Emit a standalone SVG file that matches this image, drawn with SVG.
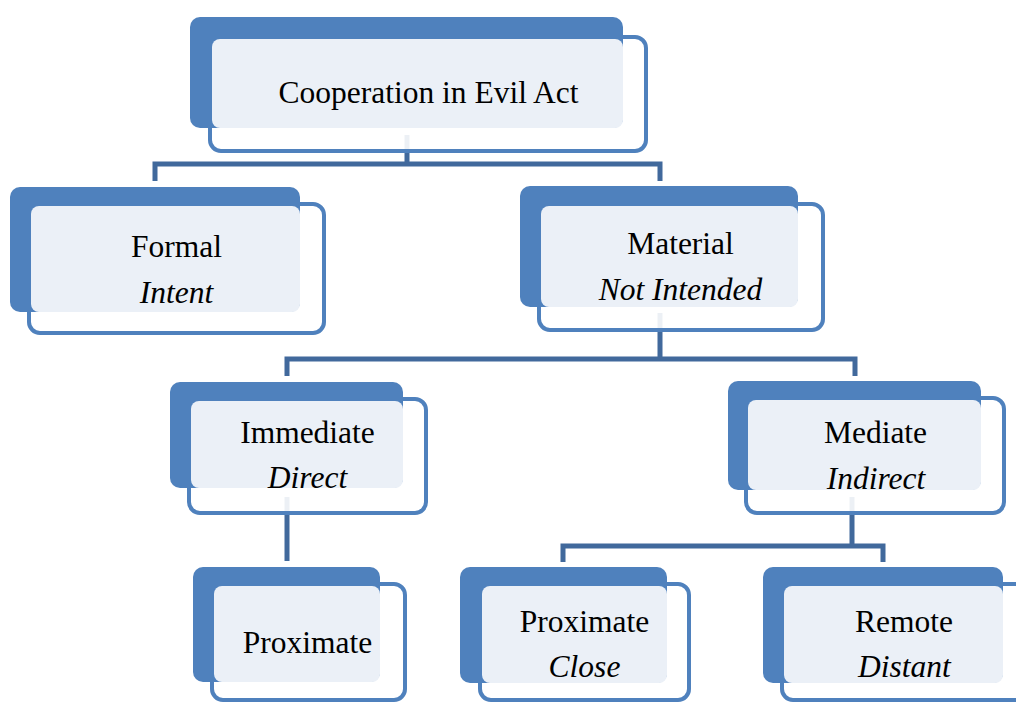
<svg xmlns="http://www.w3.org/2000/svg" width="1016" height="702" viewBox="0 0 1016 702">
<style>
.bk{fill:#4F81BD}
.ol{fill:#FFFFFF;fill-opacity:0.9;stroke:#4F81BD;stroke-width:4}
.lt{fill:#EBF0F7}
.t{font-family:"Liberation Serif","Times New Roman",serif;font-size:31.5px;fill:#000;text-anchor:middle}
.i{font-style:italic}
.c{fill:none;stroke:#41699C;stroke-width:5;stroke-linejoin:miter}
</style>
<rect width="1016" height="702" fill="#FFFFFF"/>
<g id="connectors">
<path class="c" d="M407 135 V164 M155 181 V164 H660 V181"/>
<path class="c" d="M660 313 V359 M287 376 V359 H855 V376"/>
<path class="c" d="M287 497 V561"/>
<path class="c" d="M852 497 V546 M563 562 V546 H883 V562"/>
</g>
<g id="n-top">
<rect class="ol" x="210" y="37" width="436" height="114" rx="11"/>
<rect class="bk" x="190" y="17" width="433" height="111" rx="10"/>
<rect class="lt" x="212" y="39" width="411" height="89" rx="8"/>
<text class="t" x="428.5" y="103">Cooperation in Evil Act</text>
</g>
<g id="n-formal">
<rect class="ol" x="29" y="204" width="295" height="129" rx="11"/>
<rect class="bk" x="10" y="187" width="290" height="125" rx="10"/>
<rect class="lt" x="31" y="206" width="269" height="106" rx="8"/>
<text class="t" x="176.5" y="257">Formal</text>
<text class="t i" x="176.5" y="303">Intent</text>
</g>
<g id="n-material">
<rect class="ol" x="539" y="204" width="284" height="126" rx="11"/>
<rect class="bk" x="520" y="186" width="278" height="121" rx="10"/>
<rect class="lt" x="541" y="206" width="257" height="101" rx="8"/>
<text class="t" x="680.5" y="254">Material</text>
<text class="t i" x="680.5" y="300">Not Intended</text>
</g>
<g id="n-immediate">
<rect class="ol" x="189" y="399" width="237" height="114" rx="11"/>
<rect class="bk" x="170" y="382" width="233" height="106" rx="10"/>
<rect class="lt" x="191" y="401" width="212" height="87" rx="8"/>
<text class="t" x="307.5" y="443">Immediate</text>
<text class="t i" x="307.5" y="488">Direct</text>
</g>
<g id="n-mediate">
<rect class="ol" x="746" y="398" width="258" height="115" rx="11"/>
<rect class="bk" x="728" y="381" width="253" height="109" rx="10"/>
<rect class="lt" x="748" y="400" width="233" height="90" rx="8"/>
<text class="t" x="875.5" y="443">Mediate</text>
<text class="t i" x="876" y="489">Indirect</text>
</g>
<g id="n-proximate-left">
<rect class="ol" x="212" y="584" width="193" height="116" rx="11"/>
<rect class="bk" x="193" y="567" width="187" height="115" rx="10"/>
<rect class="lt" x="214" y="586" width="166" height="96" rx="8"/>
<text class="t" x="307.5" y="653">Proximate</text>
</g>
<g id="n-proximate-close">
<rect class="ol" x="480" y="584" width="209" height="116" rx="11"/>
<rect class="bk" x="460" y="567" width="207" height="116" rx="10"/>
<rect class="lt" x="482" y="586" width="185" height="97" rx="8"/>
<text class="t" x="584.5" y="632">Proximate</text>
<text class="t i" x="584.5" y="677">Close</text>
</g>
<g id="n-remote">
<rect class="ol" x="782" y="584" width="260" height="116" rx="11"/>
<rect class="bk" x="763" y="567" width="240" height="116" rx="10"/>
<rect class="lt" x="784" y="586" width="219" height="97" rx="8"/>
<text class="t" x="904" y="632">Remote</text>
<text class="t i" x="904.5" y="677">Distant</text>
</g>
</svg>
